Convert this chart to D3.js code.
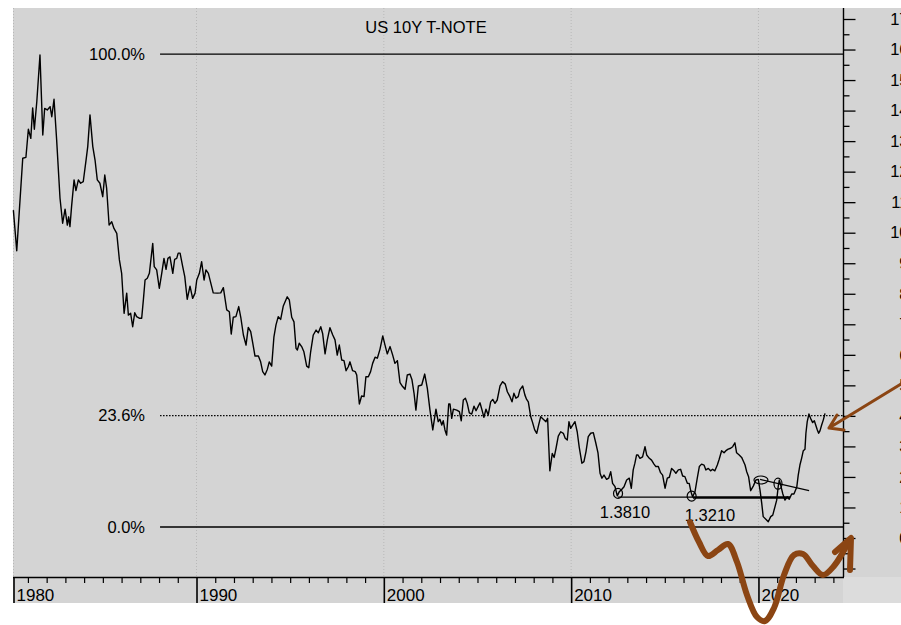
<!DOCTYPE html>
<html>
<head>
<meta charset="utf-8">
<script src="https://cdn.jsdelivr.net/npm/d3@7"></script>
<style>
  body { margin: 0; background: #fff; }
  text { font-family: "Liberation Sans", Arial, sans-serif; }
</style>
</head>
<body>
<div id="chart"></div>
<script>
// decimal years and yields (%)
const years = [
  1980.25,1980.43,1980.57,1980.75,1980.92,1981.05,1981.18,1981.28,1981.37,1981.50,
  1981.67,1981.82,1981.92,1982.06,1982.21,1982.30,1982.42,1982.56,1982.74,1982.88,
  1983.01,1983.13,1983.20,1983.27,1983.36,1983.49,1983.59,1983.72,1983.84,1983.98,
  1984.13,1984.22,1984.34,1984.49,1984.61,1984.73,1984.87,1985.02,1985.13,1985.23,
  1985.36,1985.50,1985.62,1985.77,1985.91,1986.03,1986.16,1986.30,1986.39,1986.51,
  1986.62,1986.73,1986.83,1986.97,1987.10,1987.19,1987.28,1987.40,1987.51,1987.69,
  1987.77,1987.90,1988.04,1988.17,1988.29,1988.40,1988.50,1988.61,1988.76,1988.86,
  1988.97,1989.05,1989.15,1989.29,1989.40,1989.53,1989.68,1989.82,1989.95,1990.04,
  1990.18,1990.30,1990.43,1990.53,1990.66,1990.92,1991.14,1991.32,1991.46,1991.64,
  1991.78,1991.88,1991.99,1992.13,1992.28,1992.39,1992.53,1992.67,1992.79,1992.92,
  1993.03,1993.15,1993.33,1993.45,1993.56,1993.68,1993.81,1993.91,1994.04,1994.16,
  1994.27,1994.39,1994.52,1994.66,1994.87,1994.98,1995.11,1995.23,1995.34,1995.41,
  1995.51,1995.64,1995.76,1995.91,1996.02,1996.12,1996.26,1996.41,1996.53,1996.66,
  1996.76,1996.89,1997.01,1997.15,1997.30,1997.42,1997.54,1997.65,1997.78,1997.90,
  1998.01,1998.13,1998.22,1998.36,1998.50,1998.58,1998.72,1998.84,1998.97,1999.07,
  1999.20,1999.32,1999.43,1999.56,1999.68,1999.82,1999.97,2000.09,2000.21,2000.36,
  2000.50,2000.62,2000.75,2000.89,2001.03,2001.16,2001.28,2001.42,2001.53,2001.64,
  2001.74,2001.87,2002.05,2002.21,2002.35,2002.49,2002.64,2002.81,2002.93,2003.02,
  2003.12,2003.20,2003.29,2003.38,2003.49,2003.56,2003.65,2003.74,2003.92,2004.06,
  2004.16,2004.27,2004.38,2004.48,2004.59,2004.72,2004.84,2004.95,2005.07,2005.16,
  2005.27,2005.37,2005.48,2005.60,2005.73,2005.84,2005.96,2006.08,2006.23,2006.37,
  2006.51,2006.62,2006.76,2006.87,2006.97,2007.08,2007.20,2007.29,2007.44,2007.56,
  2007.65,2007.74,2007.87,2007.97,2008.08,2008.19,2008.29,2008.40,2008.54,2008.68,
  2008.77,2008.89,2009.02,2009.12,2009.22,2009.34,2009.47,2009.61,2009.71,2009.82,
  2009.91,2010.00,2010.11,2010.23,2010.35,2010.46,2010.60,2010.71,2010.82,2010.94,
  2011.07,2011.21,2011.34,2011.46,2011.57,2011.67,2011.78,2011.92,2012.03,2012.14,
  2012.24,2012.37,2012.49,2012.60,2012.70,2012.85,2012.99,2013.13,2013.24,2013.34,
  2013.43,2013.52,2013.59,2013.70,2013.84,2013.97,2014.06,2014.20,2014.32,2014.45,
  2014.55,2014.68,2014.80,2014.91,2015.04,2015.16,2015.27,2015.39,2015.52,2015.62,
  2015.75,2015.87,2015.98,2016.10,2016.23,2016.33,2016.42,2016.51,2016.64,2016.76,
  2016.87,2016.99,2017.12,2017.22,2017.35,2017.47,2017.58,2017.70,2017.83,2017.93,
  2018.06,2018.19,2018.29,2018.41,2018.54,2018.65,2018.77,2018.86,2019.00,2019.13,
  2019.21,2019.31,2019.40,2019.50,2019.61,2019.75,2019.89,2020.02,2020.11,2020.20,
  2020.28,2020.46,2020.55,2020.68,2020.79,2020.91,2021.00,2021.08,2021.14,2021.21,
  2021.32,2021.44,2021.56,2021.67,2021.80,2021.92,2022.07,2022.15,2022.24,2022.33,
  2022.42,2022.51,2022.56,2022.63,2022.72,2022.81,2022.92,2023.01,2023.10,2023.17,
  2023.24,2023.31,2023.40,2023.49,2023.58
];
const yields = [
  10.74,9.41,10.74,12.44,12.47,13.39,13.09,14.09,13.39,14.29,
  15.82,13.20,14.07,14.02,14.13,13.80,14.37,13.04,11.13,10.31,
  10.77,10.25,10.52,10.20,10.88,11.73,11.38,11.73,11.62,11.67,
  12.38,12.82,13.86,12.82,12.38,11.73,11.62,11.18,11.89,11.45,
  10.25,10.36,10.14,9.98,9.11,8.67,7.36,8.02,7.30,7.36,
  6.92,7.38,7.25,7.20,7.20,7.80,8.45,8.51,8.67,9.65,
  8.89,8.78,8.18,8.67,9.16,8.80,9.16,9.21,8.67,9.13,
  9.16,9.33,9.33,8.89,8.56,7.82,8.25,7.85,8.02,8.45,
  8.67,9.05,8.45,8.78,8.67,8.03,8.02,8.03,8.20,7.47,
  7.41,6.68,7.23,7.25,7.58,7.23,6.65,6.32,6.90,6.76,
  6.38,5.96,5.96,5.77,5.45,5.34,5.53,5.77,5.63,6.59,
  6.98,7.25,7.16,7.60,7.90,7.80,7.23,7.08,6.21,6.16,
  6.38,6.27,6.10,5.63,5.58,6.10,6.65,6.81,6.72,6.92,
  6.70,6.03,6.49,6.89,6.65,6.49,5.99,6.32,5.83,5.81,
  5.48,5.61,5.77,5.48,5.45,5.34,4.39,4.65,4.63,5.28,
  5.28,5.45,5.72,5.92,5.89,6.18,6.62,6.32,6.03,6.27,
  5.99,5.72,5.81,5.09,4.96,4.87,5.34,5.37,5.18,4.74,
  4.19,4.98,5.01,5.37,4.90,4.19,3.54,4.22,3.81,3.89,
  3.70,3.84,3.54,3.37,4.39,4.39,3.92,4.22,4.19,4.14,
  3.84,4.52,4.58,4.41,4.10,4.06,4.32,4.17,4.32,4.43,
  4.19,3.95,4.22,4.03,4.46,4.54,4.41,4.52,4.98,5.12,
  5.04,4.79,4.63,4.46,4.74,4.58,4.63,4.85,4.98,4.68,
  4.54,4.46,3.97,3.78,3.54,3.43,3.70,3.97,3.89,3.81,
  3.92,2.20,2.77,2.64,2.94,3.34,3.48,3.43,3.27,3.21,
  3.81,3.59,3.70,3.81,3.48,2.97,2.45,2.50,2.83,3.32,
  3.43,3.45,3.12,2.79,2.12,1.96,2.06,1.92,1.96,2.17,
  1.79,1.68,1.38,1.52,1.57,1.68,1.90,1.96,1.63,2.23,
  2.45,2.72,2.72,2.61,2.66,2.99,2.72,2.61,2.55,2.42,
  2.34,2.34,2.14,2.06,1.63,1.96,1.99,2.28,2.20,2.12,
  2.23,2.25,2.03,2.01,1.79,1.79,1.52,1.35,1.52,1.96,
  2.34,2.42,2.39,2.23,2.28,2.20,2.25,2.20,2.39,2.58,
  2.86,2.79,2.86,2.91,2.94,2.99,3.12,2.79,2.72,2.64,
  2.53,2.39,2.17,2.01,1.55,1.70,1.90,1.92,1.57,1.14,
  0.70,0.59,0.53,0.70,0.75,1.03,1.24,1.68,1.90,1.74,
  1.46,1.24,1.35,1.27,1.44,1.44,1.66,2.06,2.39,2.61,
  2.86,2.91,3.43,3.81,4.06,3.92,3.78,3.84,3.67,3.54,
  3.43,3.51,3.70,3.87,4.08
];

const decades = [1980, 1990, 2000, 2010, 2020];
const yearTicks = d3.range(1981, 2025).filter(d => d % 10 !== 0);
const majorYTicks = d3.range(-1, 18, 1);
const minorYTicks = d3.range(-0.5, 17.5, 1);

// fibonacci retracement levels
const fibLabels = ["100.0%", "23.6%", "0.0%"];
const fibValues = [15.85, 4.01, 0.36];
const fibDashed = [false, true, false];
const fibStartYear = 1988.08;

// hand drawn lows and support
const lowLabels = ["1.3810", "1.3210"];
const lowYears = [2012.53, 2016.46];
const lowValues = [1.46, 1.37];
const lowLabelYears = [2012.9, 2017.44];
const supportValue = 1.34;
const supportYears = [2012.53, 2021.71];
const supportThickFrom = 2016.53;
const ovalYears = [2020.16, 2021.07];
const ovalValues = [1.90, 1.78];
const trendYears = [2020.11, 2022.73];
const trendValues = [1.92, 1.55];

let svgWidth = 901;
let svgHeight = 625;
let plot = { left: 13, right: 843, top: 8, bottom: 577 };
let bandBottom = 603;
let brown = "#8b4513";
let fontStack = "Liberation Sans, Arial, sans-serif";

let svg = d3.select("#chart")
  .append("svg")
  .attr("width", svgWidth)
  .attr("height", svgHeight);

svg.append("rect")
  .attr("x", plot.left).attr("y", plot.top)
  .attr("width", svgWidth - plot.left).attr("height", bandBottom - plot.top)
  .attr("fill", "#d4d4d4");
svg.append("rect")
  .attr("x", plot.right).attr("y", plot.bottom)
  .attr("width", svgWidth - plot.right).attr("height", bandBottom - plot.bottom)
  .attr("fill", "#dcdcdc");

let x = d3.scaleLinear()
  .domain([1980.23, 2024.54])
  .range([plot.left, plot.right])
  .clamp(true);

let y = d3.scaleLinear()
  .domain([0, 17])
  .range([538, 19]);

// decade grid
svg.append("g").selectAll("line")
  .data(decades)
  .enter()
  .append("line")
  .attr("x1", d => x(d) + 0.5).attr("x2", d => x(d) + 0.5)
  .attr("y1", plot.top).attr("y2", plot.bottom)
  .attr("stroke", "#b8b8b8")
  .attr("stroke-dasharray", "1,2");

// title
svg.append("text")
  .attr("x", 426).attr("y", 33)
  .attr("text-anchor", "middle")
  .attr("font-size", 16.5)
  .text("US 10Y T-NOTE");

// retracement lines
let fib = svg.append("g");
fib.selectAll("line")
  .data(fibValues)
  .enter()
  .append("line")
  .attr("x1", x(fibStartYear)).attr("x2", plot.right)
  .attr("y1", d => y(d)).attr("y2", d => y(d))
  .attr("stroke", "#000")
  .attr("stroke-width", (d, i) => fibDashed[i] ? 1.4 : 1.3)
  .attr("stroke-dasharray", (d, i) => fibDashed[i] ? "1.5,1.5" : null);
fib.selectAll("text")
  .data(fibValues)
  .enter()
  .append("text")
  .attr("x", x(fibStartYear) - 15)
  .attr("y", d => y(d))
  .attr("dy", "0.35em")
  .attr("text-anchor", "end")
  .attr("font-size", 16.5)
  .text((d, i) => fibLabels[i]);

// price line
let series = years.map((d, i) => [d, yields[i]]);
svg.append("path")
  .datum(series)
  .attr("d", d3.line().x(d => x(d[0])).y(d => y(d[1])))
  .attr("fill", "none")
  .attr("stroke", "#000")
  .attr("stroke-width", 1.4)
  .attr("stroke-linejoin", "round");

// support line + lows
svg.append("line")
  .attr("x1", x(supportYears[0])).attr("x2", x(supportYears[1]))
  .attr("y1", y(supportValue)).attr("y2", y(supportValue))
  .attr("stroke", "#000").attr("stroke-width", 1.2);
svg.append("line")
  .attr("x1", x(supportThickFrom)).attr("x2", x(supportYears[1]))
  .attr("y1", y(supportValue) + 0.5).attr("y2", y(supportValue) + 0.5)
  .attr("stroke", "#000").attr("stroke-width", 2.4);

svg.append("g").selectAll("ellipse")
  .data(lowYears)
  .enter()
  .append("ellipse")
  .attr("cx", d => x(d))
  .attr("cy", (d, i) => y(lowValues[i]))
  .attr("rx", 4.5).attr("ry", 5)
  .attr("fill", "none").attr("stroke", "#000").attr("stroke-width", 1.2);

svg.append("g").selectAll("text")
  .data(lowLabelYears)
  .enter()
  .append("text")
  .attr("x", d => x(d))
  .attr("y", (d, i) => y(supportValue) + 21 + i * 3)
  .attr("text-anchor", "middle")
  .attr("font-size", 16.5)
  .text((d, i) => lowLabels[i]);

svg.append("ellipse")
  .attr("cx", x(ovalYears[0])).attr("cy", y(ovalValues[0]))
  .attr("rx", 7).attr("ry", 4)
  .attr("fill", "none").attr("stroke", "#000").attr("stroke-width", 1.2);
svg.append("ellipse")
  .attr("cx", x(ovalYears[1])).attr("cy", y(ovalValues[1]))
  .attr("rx", 4).attr("ry", 5.5)
  .attr("fill", "none").attr("stroke", "#000").attr("stroke-width", 1.2);
svg.append("line")
  .attr("x1", x(trendYears[0])).attr("y1", y(trendValues[0]))
  .attr("x2", x(trendYears[1])).attr("y2", y(trendValues[1]))
  .attr("stroke", "#000").attr("stroke-width", 1.2);

// right axis (labels run off the right edge, as in the original)
let rightMajor = d3.axisRight(y).tickValues(majorYTicks).tickSize(12)
  .tickFormat(d => d < 0 ? "" : d);
let rightMinor = d3.axisRight(y).tickValues(minorYTicks).tickSize(6).tickFormat("");

let ry = svg.append("g")
  .attr("transform", `translate(${plot.right + 0.5},0)`)
  .call(rightMajor)
  .attr("font-size", 16.5)
  .attr("font-family", fontStack);
ry.select(".domain").remove();
ry.selectAll("line").attr("stroke-width", 1.3);
ry.selectAll("text").attr("x", 65).attr("text-anchor", "end").attr("fill", "#000");

let ryMinor = svg.append("g")
  .attr("transform", `translate(${plot.right + 0.5},0)`)
  .call(rightMinor);
ryMinor.select(".domain").remove();
ryMinor.selectAll("line").attr("stroke-width", 1.3);

svg.append("line")
  .attr("x1", plot.right + 0.5).attr("x2", plot.right + 0.5)
  .attr("y1", plot.top).attr("y2", plot.bottom)
  .attr("stroke", "#000").attr("stroke-width", 1.4);

// bottom axis
let xMinor = d3.axisBottom(x).tickValues(yearTicks).tickSize(6).tickFormat("");
let xMajor = d3.axisBottom(x).tickValues(decades).tickSize(bandBottom - plot.bottom)
  .tickFormat(d3.format("d"));

let bx = svg.append("g")
  .attr("transform", `translate(0.5,${plot.bottom})`)
  .call(xMinor);
bx.select(".domain").remove();
bx.selectAll("line").attr("stroke-width", 1.2);

let bxMajor = svg.append("g")
  .attr("transform", `translate(0.5,${plot.bottom})`)
  .call(xMajor)
  .attr("font-size", 17)
  .attr("font-family", fontStack);
bxMajor.select(".domain").remove();
bxMajor.selectAll("line").attr("stroke-width", 1.6);
bxMajor.selectAll("text")
  .attr("x", 2.5).attr("y", 12).attr("dy", "0.71em")
  .attr("text-anchor", "start").attr("fill", "#000");

svg.append("line")
  .attr("x1", plot.left).attr("x2", plot.right + 1)
  .attr("y1", plot.bottom + 0.5).attr("y2", plot.bottom + 0.5)
  .attr("stroke", "#000").attr("stroke-width", 1.4);

// brown hand drawn arrows (screen sketch)
svg.append("path")
  .attr("d", "M901,384 L829,428 M829,428 L837,415 M829,428 L844,430")
  .attr("fill", "none").attr("stroke", brown)
  .attr("stroke-width", 3).attr("stroke-linecap", "round").attr("stroke-linejoin", "round");

let wave = [[690,522],[699,542],[708,556],[718,550],[728,544],[737,562],[747,595],[757,617],[765,621],
            [774,608],[784,575],[794,555],[803,554],[813,566],[823,575],[834,566],[849,541]];
svg.append("path")
  .attr("d", d3.line().curve(d3.curveCatmullRom)(wave))
  .attr("fill", "none").attr("stroke", brown)
  .attr("stroke-width", 6).attr("stroke-linecap", "round");
svg.append("path")
  .attr("d", "M835,552 L851,538 L850,570")
  .attr("fill", "none").attr("stroke", brown)
  .attr("stroke-width", 6).attr("stroke-linecap", "round").attr("stroke-linejoin", "round");
</script>
</body>
</html>
